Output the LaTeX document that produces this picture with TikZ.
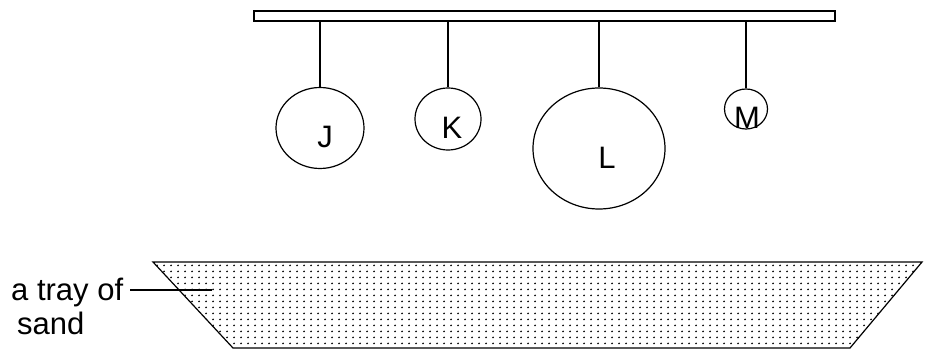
\documentclass[tikz,border=0pt]{standalone}
\usepackage{fontspec}
\setmainfont{Liberation Sans}
\usetikzlibrary{patterns,shapes.geometric}
\pgfdeclarepatternformonly{sanddots}{\pgfpointorigin}{\pgfpoint{7pt}{6pt}}{\pgfpoint{7pt}{6pt}}{%
  \pgfpathcircle{\pgfpoint{3.5pt}{3pt}}{1.1pt}\pgfusepath{fill}}
\tikzset{
  ball/.style={draw,ellipse,line width=1.2pt,inner sep=0pt},
  thread/.style={line width=1.6pt},
  lbl/.style={font=\fontsize{31}{33}\selectfont,inner sep=0pt}
}
\begin{document}
\begin{tikzpicture}[x=1pt,y=-1pt]
    \useasboundingbox (0,0) rectangle (928,352);
    \node[draw,line width=1.2pt,minimum width=581pt,minimum height=10pt,inner sep=0pt] (B0) at (544.5,16) {};
    \node[ball,minimum width=88pt,minimum height=81pt] (J) at (320,128) {};
    \node[ball,minimum width=66pt,minimum height=62pt] (K) at (448,119) {};
    \node[ball,minimum width=132pt,minimum height=121pt] (L) at (599,148.5) {};
    \node[ball,minimum width=43pt,minimum height=40pt] (M) at (746,109) {};
    \node[lbl] (J_t) at (325,137) {J};
    \node[lbl] (K_t) at (452,128) {K};
    \node[lbl] (L_t) at (607,158) {L};
    \node[lbl] (M_t) at (747,118) {M};
    \draw[thread] (J.north |- B0.south) -- (J.north);
    \draw[thread] (K.north |- B0.south) -- (K.north);
    \draw[thread] (L.north |- B0.south) -- (L.north);
    \draw[thread] (M.north |- B0.south) -- (M.north);
    % tray
    \coordinate (T0) at (153,262);
    \coordinate (T1) at (922,262);
    \coordinate (T2) at (850,348);
    \coordinate (T3) at (233,348);
    \draw[line width=1.2pt,pattern=sanddots] (T0) -- (T1) -- (T2) -- (T3) -- cycle;
    \node[lbl,align=left,anchor=west] (S0) at (11,306) {a tray of\\[1pt]\hspace{6pt}sand};
    \coordinate (S1) at (212,290);
    \draw[line width=1.2pt] (130,290) -- (S1);
\end{tikzpicture}
\end{document}
